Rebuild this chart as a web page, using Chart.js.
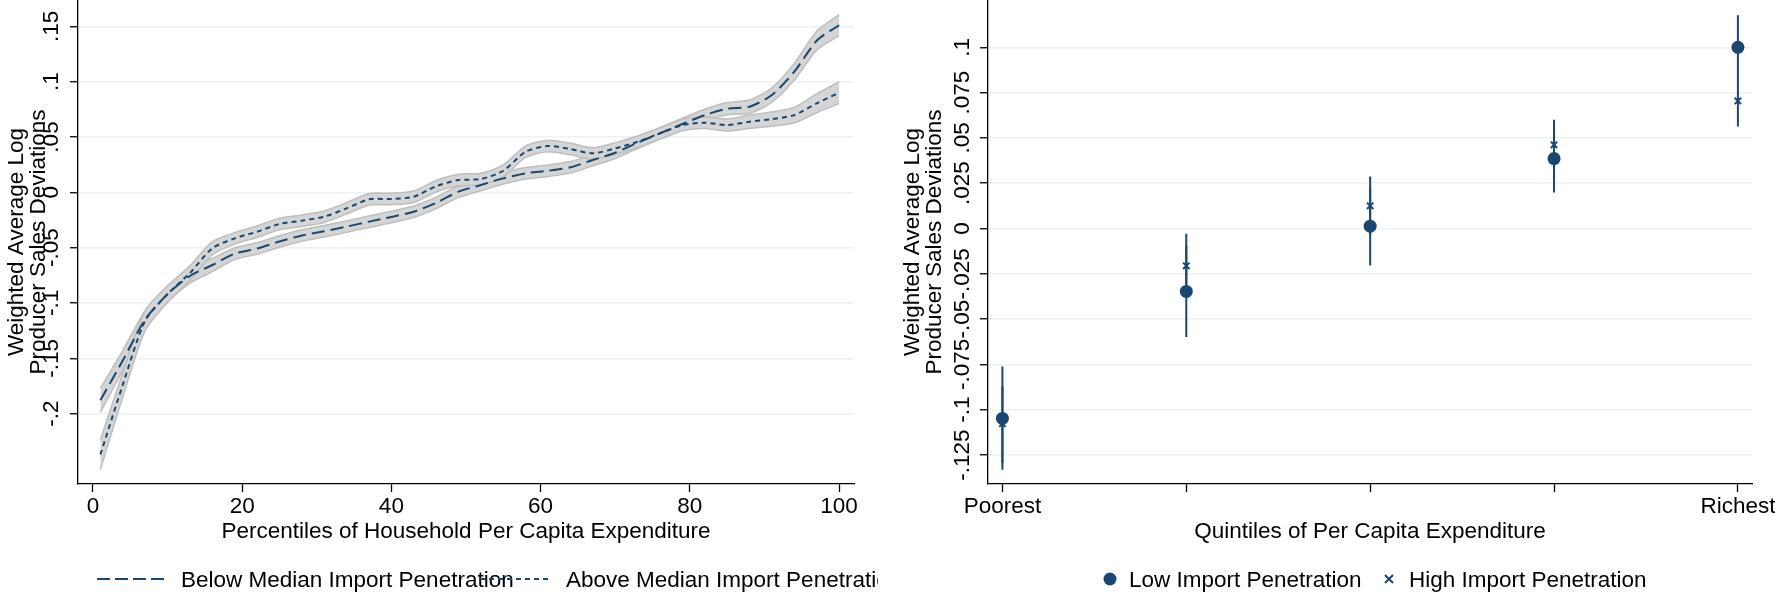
<!DOCTYPE html>
<html lang="en">
<head>
<meta charset="UTF-8" />
<title>Producer Sales Deviations by Expenditure</title>
<script src="https://cdn.jsdelivr.net/npm/chart.js@4"></script>
<style>
  body { margin: 0; background: #fff; }
  #wrap { position: relative; width: 1775px; height: 600px; overflow: hidden; }
  canvas { position: absolute; top: 0; }
  #left { left: 0; }
  #right { left: 880px; }
  svg { position: absolute; top: 560px; font-family: "Liberation Sans", Arial, sans-serif; font-size: 22.5px; }
</style>
</head>
<body>
<div id="wrap">
  <canvas id="left" width="880" height="600"></canvas>
  <canvas id="right" width="895" height="600"></canvas>

  <svg style="left:0" width="878" height="40">
    <line x1="97" y1="19" x2="167" y2="19" stroke="#1a476f" stroke-width="2" stroke-dasharray="13 5" />
    <text x="181" y="19" dominant-baseline="central">Below Median Import Penetration</text>
    <line x1="480" y1="19" x2="552" y2="19" stroke="#1a476f" stroke-width="2" stroke-dasharray="5 4" />
    <text x="566" y="19" dominant-baseline="central">Above Median Import Penetration</text>
  </svg>
  <svg style="left:880px" width="895" height="40">
    <circle cx="230" cy="19" r="6.5" fill="#1a476f" />
    <text x="249" y="19" dominant-baseline="central">Low Import Penetration</text>
    <path d="M505 15 L513 23 M505 23 L513 15" stroke="#1a476f" stroke-width="2" />
    <text x="529" y="19" dominant-baseline="central">High Import Penetration</text>
  </svg>
</div>

<script>
  // left panel: local polynomial fits by percentile
  var percentiles = [1, 4, 7, 10, 13, 16, 19, 22, 25, 28, 31, 34, 37, 40, 43, 46, 49,
                     52, 55, 58, 61, 64, 67, 70, 73, 76, 79, 82, 85, 88, 91, 94, 97, 100];
  var belowMedian = [-0.188, -0.152, -0.115, -0.092, -0.0756, -0.0657, -0.0555, -0.0508,
                     -0.0445, -0.039, -0.0352, -0.031, -0.0265, -0.0223, -0.0175, -0.0095,
                     0.0006, 0.0066, 0.0126, 0.0172, 0.0195, 0.0226, 0.0292, 0.0358,
                     0.0448, 0.0533, 0.0617, 0.0698, 0.0756, 0.0774, 0.0879, 0.109, 0.137, 0.151];
  var belowMedianCI = [0.011, 0.009, 0.008, 0.007, 0.0065, 0.006, 0.0052, 0.0052, 0.0052,
                       0.0052, 0.0052, 0.0052, 0.0052, 0.0052, 0.0052, 0.0052, 0.0052, 0.0052,
                       0.0052, 0.0052, 0.0052, 0.0052, 0.0052, 0.0052, 0.0052, 0.0052, 0.0052,
                       0.0052, 0.0055, 0.006, 0.0065, 0.0075, 0.0085, 0.0095];
  var aboveMedian = [-0.237, -0.174, -0.116, -0.092, -0.073, -0.0506, -0.0416, -0.0356,
                     -0.0286, -0.0256, -0.022, -0.0145, -0.0063, -0.006, -0.004, 0.0055,
                     0.0111, 0.012, 0.0195, 0.0367, 0.0418, 0.0391, 0.0352, 0.0397,
                     0.0457, 0.0533, 0.0608, 0.0629, 0.0608, 0.0638, 0.0662, 0.0698, 0.0804, 0.09];
  var aboveMedianCI = [0.0135, 0.011, 0.009, 0.0075, 0.0065, 0.006, 0.0052, 0.0052, 0.0052,
                       0.0052, 0.0052, 0.0052, 0.0052, 0.0052, 0.0052, 0.0052, 0.0052, 0.0052,
                       0.0052, 0.0052, 0.0052, 0.0052, 0.0052, 0.0052, 0.0052, 0.0052, 0.0052,
                       0.0052, 0.0055, 0.006, 0.0065, 0.007, 0.0085, 0.0098];
  var leftXTicks = [0, 20, 40, 60, 80, 100];
  var leftYTicks = [-0.2, -0.15, -0.1, -0.05, 0, 0.05, 0.1, 0.15];

  // right panel: quintile means with confidence intervals
  var quintiles = [0, 1, 2, 3, 4];
  var quintileLabels = ["Poorest", "", "", "", "Richest"];
  var lowImport = [-0.1048, -0.0347, 0.0013, 0.0386, 0.1];
  var lowImportLo = [-0.1331, -0.0599, -0.0204, 0.0199, 0.0835];
  var lowImportHi = [-0.0761, -0.0095, 0.023, 0.0573, 0.1177];
  var highImport = [-0.1077, -0.0206, 0.0125, 0.0462, 0.0704];
  var highImportLo = [-0.1294, -0.0383, -0.0037, 0.0324, 0.0563];
  var highImportHi = [-0.087, -0.0029, 0.0287, 0.06, 0.0845];
  var rightYTicks = [-0.125, -0.1, -0.075, -0.05, -0.025, 0, 0.025, 0.05, 0.075, 0.1];

  var navy = "#1a476f";
  var bandFill = "#d5d5d5";
  var bandEdge = "#bebebe";
  var gridColor = "#eaf2f3";
  var font = { family: '"Liberation Sans", Arial, sans-serif', size: 22.5 };

  function stataNum(v) {
    var s = String(Math.round(v * 1000) / 1000);
    return s.replace(/^(-?)0\./, "$1.");
  }

  function points(xs, ys) {
    return xs.map(function (x, i) { return { x: x, y: ys[i] }; });
  }

  function shifted(ys, ds, sign) {
    return ys.map(function (y, i) { return y + sign * ds[i]; });
  }

  function ciSegments(xs, lo, hi) {
    var out = [];
    xs.forEach(function (x, i) {
      out.push({ x: x, y: lo[i] }, { x: x, y: hi[i] }, { x: x, y: null });
    });
    return out;
  }

  function yAxis(min, max, tickValues, width, labelPad, titlePad) {
    return {
      type: "linear",
      min: min,
      max: max,
      afterBuildTicks: function (s) { s.ticks = tickValues.map(function (v) { return { value: v }; }); },
      afterFit: function (s) { s.width = width; s.paddingTop = 0; s.paddingBottom = 0; },
      ticks: { minRotation: 90, maxRotation: 90, crossAlign: "center", padding: labelPad, autoSkip: false,
               color: "#000", font: font, callback: function (v) { return stataNum(v); } },
      grid: { color: gridColor, lineWidth: 1.5, tickColor: "#000", tickLength: 8, tickWidth: 1.3 },
      border: { color: "#000", width: 1.3 },
      title: { display: true, text: ["Weighted Average Log", "Producer Sales Deviations"],
               color: "#000", font: { family: font.family, size: 22.5, lineHeight: 0.978 },
               padding: { top: titlePad, bottom: 0 } }
    };
  }

  function xAxis(min, max, tickValues, labelFn, title) {
    return {
      type: "linear",
      min: min,
      max: max,
      afterBuildTicks: function (s) { s.ticks = tickValues.map(function (v) { return { value: v }; }); },
      afterFit: function (s) { s.height = 116; s.paddingLeft = 0; s.paddingRight = 0; },
      ticks: { maxRotation: 0, autoSkip: false, padding: 1.5, color: "#000", font: font, callback: labelFn },
      grid: { drawOnChartArea: false, tickColor: "#000", tickLength: 8, tickWidth: 1.3 },
      border: { color: "#000", width: 1.3 },
      title: { display: true, text: title, color: "#000", font: font, padding: { top: 0, bottom: 54.5 } }
    };
  }

  var bandStyle = { borderColor: bandEdge, borderWidth: 1.5, pointRadius: 0, tension: 0.25, backgroundColor: bandFill };

  new Chart(document.getElementById("left").getContext("2d"), {
    type: "line",
    data: {
      datasets: [
        Object.assign({ data: points(percentiles, shifted(belowMedian, belowMedianCI, 1)), fill: false, order: 2 }, bandStyle),
        Object.assign({ data: points(percentiles, shifted(belowMedian, belowMedianCI, -1)), fill: "-1", order: 2 }, bandStyle),
        Object.assign({ data: points(percentiles, shifted(aboveMedian, aboveMedianCI, 1)), fill: false, order: 1 }, bandStyle),
        Object.assign({ data: points(percentiles, shifted(aboveMedian, aboveMedianCI, -1)), fill: "-1", order: 1 }, bandStyle),
        { label: "Below Median Import Penetration", data: points(percentiles, belowMedian),
          borderColor: navy, borderWidth: 2, borderDash: [13, 6], pointRadius: 0, tension: 0.25, fill: false, order: 0 },
        { label: "Above Median Import Penetration", data: points(percentiles, aboveMedian),
          borderColor: navy, borderWidth: 2, borderDash: [5, 4], pointRadius: 0, tension: 0.25, fill: false, order: 0 }
      ]
    },
    options: {
      responsive: false,
      animation: false,
      events: [],
      layout: { autoPadding: false, padding: { left: 0, right: 26, top: 0, bottom: 0 } },
      scales: {
        x: xAxis(-2, 102, leftXTicks, function (v) { return String(v); }, "Percentiles of Household Per Capita Expenditure"),
        y: yAxis(-0.2636, 0.1738, leftYTicks, 78, -1.4, 6)
      },
      plugins: { legend: { display: false }, tooltip: { enabled: false } }
    }
  });

  new Chart(document.getElementById("right").getContext("2d"), {
    type: "scatter",
    data: {
      datasets: [
        { label: "Low Import Penetration", data: points(quintiles, lowImport),
          pointStyle: "circle", pointRadius: 6.5, backgroundColor: navy, borderColor: navy, borderWidth: 0, order: 0 },
        { label: "High Import Penetration", data: points(quintiles, highImport),
          pointStyle: "crossRot", pointRadius: 4.5, borderColor: navy, borderWidth: 2, order: 0 },
        { type: "line", data: ciSegments(quintiles, lowImportLo, lowImportHi), showLine: true, spanGaps: false,
          borderColor: navy, borderWidth: 2, pointRadius: 0, order: 1 },
        { type: "line", data: ciSegments(quintiles, highImportLo, highImportHi), showLine: true, spanGaps: false,
          borderColor: navy, borderWidth: 2, pointRadius: 0, order: 1 }
      ]
    },
    options: {
      responsive: false,
      animation: false,
      events: [],
      layout: { autoPadding: false, padding: { left: 0, right: 23, top: 0, bottom: 0 } },
      scales: {
        x: xAxis(-0.0784, 4.0766, quintiles, function (v) { return quintileLabels[v]; }, "Quintiles of Per Capita Expenditure"),
        y: yAxis(-0.141, 0.1261, rightYTicks, 108, -8.6, 22)
      },
      plugins: { legend: { display: false }, tooltip: { enabled: false } }
    }
  });
</script>
</body>
</html>
